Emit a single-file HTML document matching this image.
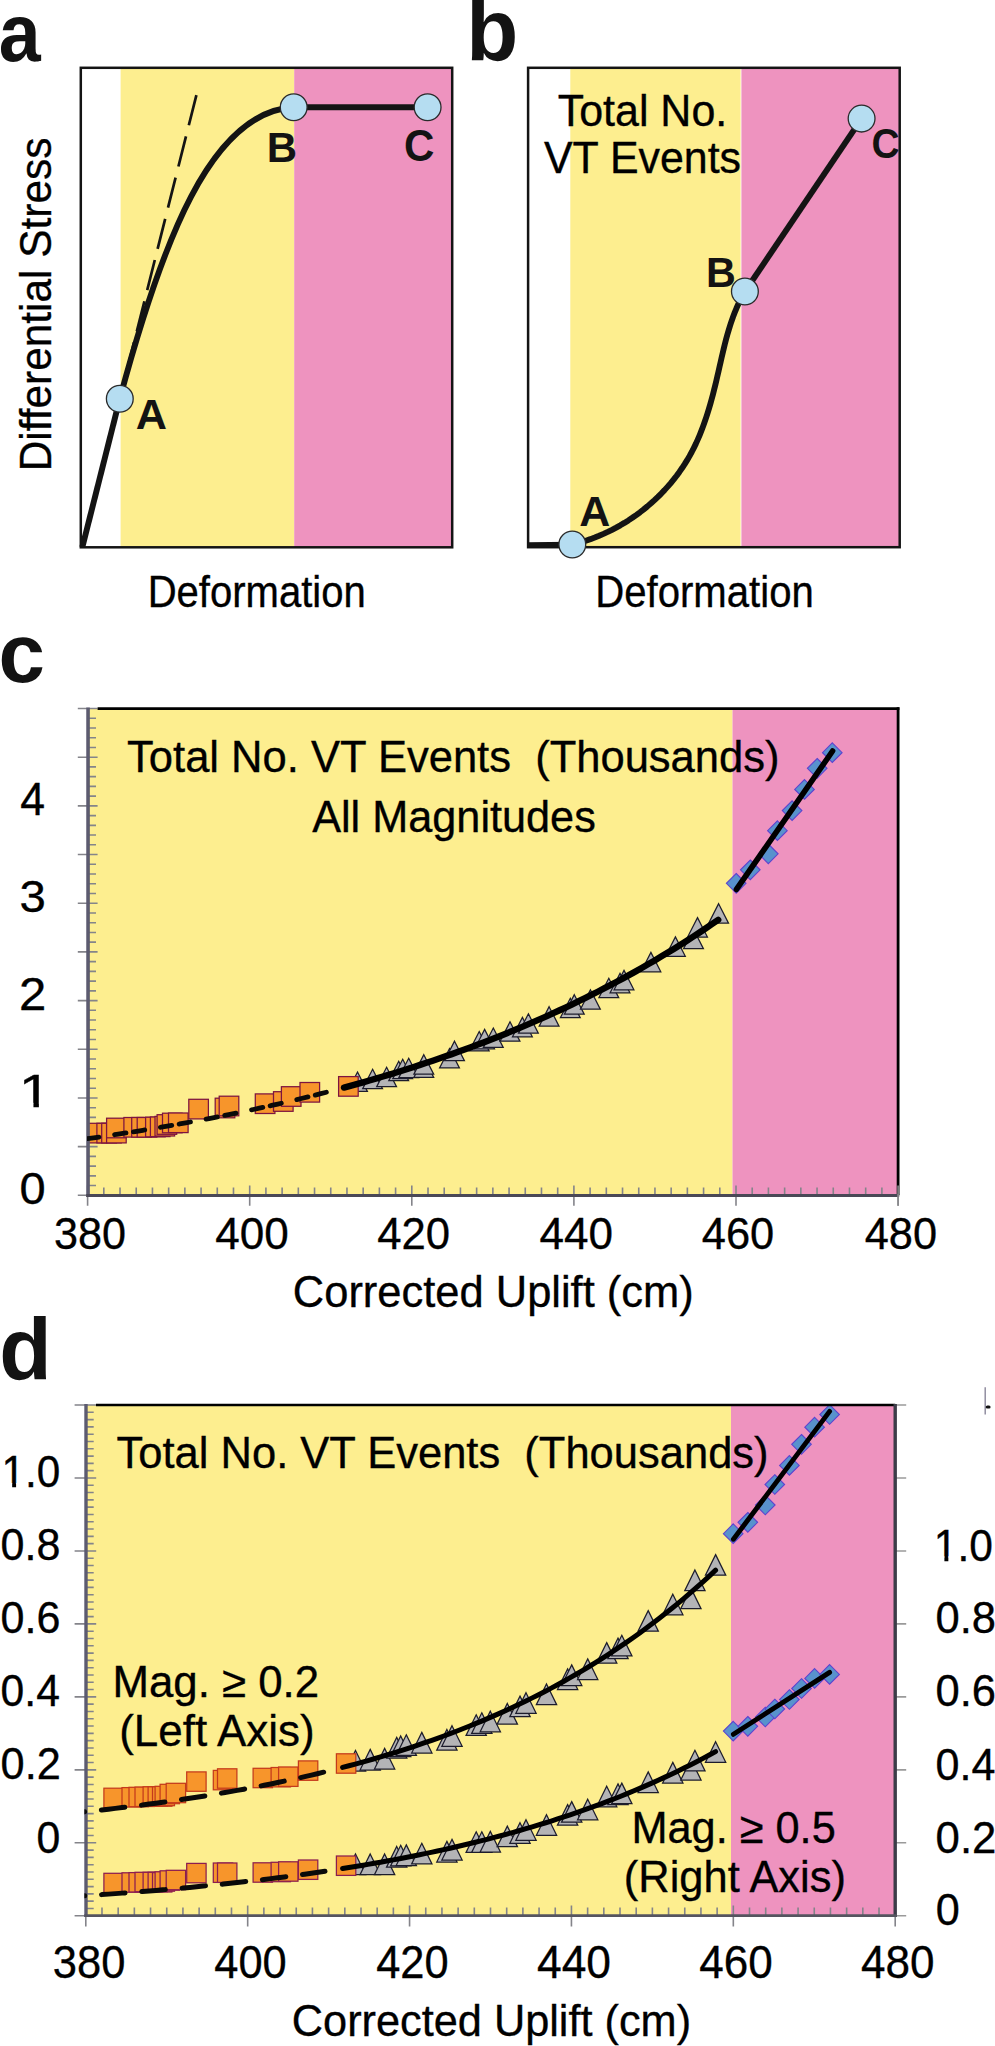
<!DOCTYPE html>
<html lang="en">
<head>
<meta charset="utf-8">
<title>Figure</title>
<style>
html,body{margin:0;padding:0;background:#fff;}
body{width:995px;height:2046px;overflow:hidden;}
svg{display:block;}
svg text{font-family:"Liberation Sans",sans-serif;white-space:pre;}
</style>
</head>
<body>
<svg width="995" height="2046" viewBox="0 0 995 2046">
<defs>
<clipPath id="clipC"><rect x="88" y="700" width="812" height="497"/></clipPath>
<clipPath id="clipD"><rect x="86" y="1400" width="812" height="517"/></clipPath>
<clipPath id="clipC2"><rect x="87.1" y="700" width="812" height="497"/></clipPath>
<clipPath id="clipD2"><rect x="84.4" y="1400" width="812" height="517"/></clipPath>
</defs>
<rect x="0" y="0" width="995" height="2046" fill="#fff"/>
<rect x="80.8" y="67.8" width="371.4" height="479.49999999999994" fill="#fff"/>
<rect x="120.6" y="67.8" width="173.60" height="479.49999999999994" fill="#FDEE8F"/>
<rect x="294.2" y="67.8" width="158.00" height="479.49999999999994" fill="#EE93BF"/>
<rect x="80.8" y="67.8" width="371.4" height="479.49999999999994" fill="none" stroke="#141414" stroke-width="2.5"/>
<path d="M196.4,95.2 L119.8,398.7" fill="none" stroke="#141414" stroke-width="2.7" stroke-dasharray="31 11.5"/>
<path d="M82.3,547.3 L119.8,398.7" fill="none" stroke="#141414" stroke-width="5.9" stroke-linecap="butt"/>
<path d="M119.8,398.7 C161.52,243.94 210.25,111.58 293.7,107.3" fill="none" stroke="#141414" stroke-width="5.9"/>
<path d="M293.7,107.3 L427.6,107.3" fill="none" stroke="#141414" stroke-width="5.9"/>
<circle cx="119.80" cy="398.70" r="13.4" fill="#B5DDF1" stroke="#2a2a2a" stroke-width="1.3"/>
<circle cx="293.70" cy="107.30" r="13.4" fill="#B5DDF1" stroke="#2a2a2a" stroke-width="1.3"/>
<circle cx="427.60" cy="107.30" r="13.4" fill="#B5DDF1" stroke="#2a2a2a" stroke-width="1.3"/>
<rect x="528.1" y="67.8" width="371.60" height="479.40" fill="#fff"/>
<rect x="570.3" y="67.8" width="170.30" height="479.40" fill="#FDEE8F"/>
<rect x="741.4" y="67.8" width="158.30" height="479.40" fill="#EE93BF"/>
<rect x="528.1" y="67.8" width="371.60" height="479.40" fill="none" stroke="#141414" stroke-width="2.5"/>
<path d="M527,545.0 L572.3,544.6" fill="none" stroke="#141414" stroke-width="5.6"/>
<path d="M572.30,544.50 L576.86,543.35 L581.39,542.08 L585.89,540.68 L590.35,539.16 L594.77,537.52 L599.15,535.76 L603.48,533.89 L607.76,531.91 L612.00,529.82 L616.18,527.62 L620.30,525.31 L624.37,522.90 L628.38,520.39 L632.32,517.78 L636.20,515.06 L640.01,512.26 L643.75,509.36 L647.41,506.37 L651.00,503.29 L654.51,500.12 L657.93,496.87 L661.28,493.54 L664.53,490.12 L667.70,486.63 L670.78,483.06 L673.76,479.41 L676.64,475.70 L679.42,471.91 L682.10,468.06 L684.68,464.14 L687.15,460.15 L689.50,456.11 L691.75,452.00 L693.88,447.84 L695.92,443.63 L697.85,439.36 L699.69,435.05 L701.44,430.69 L703.11,426.30 L704.70,421.87 L706.21,417.40 L707.66,412.90 L709.04,408.38 L710.37,403.83 L711.64,399.26 L712.87,394.67 L714.05,390.06 L715.19,385.45 L716.31,380.82 L717.39,376.19 L718.46,371.56 L719.51,366.93 L720.55,362.31 L721.61,357.69 L722.68,353.08 L723.77,348.49 L724.90,343.91 L726.08,339.35 L727.32,334.82 L728.62,330.31 L729.99,325.84 L731.45,321.40 L733.01,316.99 L734.67,312.62 L736.45,308.30 L738.35,304.02 L740.38,299.79 L742.56,295.62 L744.90,291.50" fill="none" stroke="#141414" stroke-width="5.9" stroke-linejoin="round"/>
<path d="M744.9,291.5 L861.6,118.6" fill="none" stroke="#141414" stroke-width="5.9"/>
<circle cx="572.30" cy="544.50" r="13.4" fill="#B5DDF1" stroke="#2a2a2a" stroke-width="1.3"/>
<circle cx="744.90" cy="291.50" r="13.4" fill="#B5DDF1" stroke="#2a2a2a" stroke-width="1.3"/>
<circle cx="861.60" cy="118.60" r="13.4" fill="#B5DDF1" stroke="#2a2a2a" stroke-width="1.3"/>
<rect x="87.6" y="708.5" width="644.90" height="486.80" fill="#FDEE8F"/>
<rect x="732.5" y="708.5" width="165.60" height="486.80" fill="#EE93BF"/>
<path d="M77.8,1195.30 H97.6 M88,1185.56 H96 M88,1175.83 H96 M88,1166.09 H96 M88,1156.36 H96 M77.8,1146.62 H97.6 M88,1136.88 H96 M88,1127.15 H96 M88,1117.41 H96 M88,1107.68 H96 M77.8,1097.94 H97.6 M88,1088.20 H96 M88,1078.47 H96 M88,1068.73 H96 M88,1059.00 H96 M77.8,1049.26 H97.6 M88,1039.52 H96 M88,1029.79 H96 M88,1020.05 H96 M88,1010.32 H96 M77.8,1000.58 H97.6 M88,990.84 H96 M88,981.11 H96 M88,971.37 H96 M88,961.64 H96 M77.8,951.90 H97.6 M88,942.16 H96 M88,932.43 H96 M88,922.69 H96 M88,912.96 H96 M77.8,903.22 H97.6 M88,893.48 H96 M88,883.75 H96 M88,874.01 H96 M88,864.28 H96 M77.8,854.54 H97.6 M88,844.80 H96 M88,835.07 H96 M88,825.33 H96 M88,815.60 H96 M77.8,805.86 H97.6 M88,796.12 H96 M88,786.39 H96 M88,776.65 H96 M88,766.92 H96 M77.8,757.18 H97.6 M88,747.44 H96 M88,737.71 H96 M88,727.97 H96 M88,718.24 H96 M77.8,708.50 H97.6" stroke="#84848a" stroke-width="1.6" fill="none"/>
<path d="M87.60,1185.4 V1205.8 M103.81,1187.4 V1195.3 M120.02,1187.4 V1195.3 M136.23,1187.4 V1195.3 M152.44,1187.4 V1195.3 M168.65,1187.4 V1195.3 M184.86,1187.4 V1195.3 M201.07,1187.4 V1195.3 M217.28,1187.4 V1195.3 M233.49,1187.4 V1195.3 M249.70,1185.4 V1205.8 M265.91,1187.4 V1195.3 M282.12,1187.4 V1195.3 M298.33,1187.4 V1195.3 M314.54,1187.4 V1195.3 M330.75,1187.4 V1195.3 M346.96,1187.4 V1195.3 M363.17,1187.4 V1195.3 M379.38,1187.4 V1195.3 M395.59,1187.4 V1195.3 M411.80,1185.4 V1205.8 M428.01,1187.4 V1195.3 M444.22,1187.4 V1195.3 M460.43,1187.4 V1195.3 M476.64,1187.4 V1195.3 M492.85,1187.4 V1195.3 M509.06,1187.4 V1195.3 M525.27,1187.4 V1195.3 M541.48,1187.4 V1195.3 M557.69,1187.4 V1195.3 M573.90,1185.4 V1205.8 M590.11,1187.4 V1195.3 M606.32,1187.4 V1195.3 M622.53,1187.4 V1195.3 M638.74,1187.4 V1195.3 M654.95,1187.4 V1195.3 M671.16,1187.4 V1195.3 M687.37,1187.4 V1195.3 M703.58,1187.4 V1195.3 M719.79,1187.4 V1195.3 M736.00,1185.4 V1205.8 M752.21,1187.4 V1195.3 M768.42,1187.4 V1195.3 M784.63,1187.4 V1195.3 M800.84,1187.4 V1195.3 M817.05,1187.4 V1195.3 M833.26,1187.4 V1195.3 M849.47,1187.4 V1195.3 M865.68,1187.4 V1195.3 M881.89,1187.4 V1195.3 M898.10,1185.4 V1205.8" stroke="#84848a" stroke-width="1.6" fill="none"/>
<g clip-path="url(#clipC)">
<path d="M357.50,1072.00 L367.40,1091.40 L347.60,1091.40 Z" fill="#B4B4B6" stroke="#1c1c2c" stroke-width="1.25" stroke-linejoin="miter"/>
<path d="M372.60,1069.30 L382.50,1088.70 L362.70,1088.70 Z" fill="#B4B4B6" stroke="#1c1c2c" stroke-width="1.25" stroke-linejoin="miter"/>
<path d="M386.60,1067.30 L396.50,1086.70 L376.70,1086.70 Z" fill="#B4B4B6" stroke="#1c1c2c" stroke-width="1.25" stroke-linejoin="miter"/>
<path d="M398.70,1061.30 L408.60,1080.70 L388.80,1080.70 Z" fill="#B4B4B6" stroke="#1c1c2c" stroke-width="1.25" stroke-linejoin="miter"/>
<path d="M402.70,1059.30 L412.60,1078.70 L392.80,1078.70 Z" fill="#B4B4B6" stroke="#1c1c2c" stroke-width="1.25" stroke-linejoin="miter"/>
<path d="M408.70,1058.30 L418.60,1077.70 L398.80,1077.70 Z" fill="#B4B4B6" stroke="#1c1c2c" stroke-width="1.25" stroke-linejoin="miter"/>
<path d="M423.80,1058.00 L433.70,1077.40 L413.90,1077.40 Z" fill="#B4B4B6" stroke="#1c1c2c" stroke-width="1.25" stroke-linejoin="miter"/>
<path d="M423.80,1054.70 L433.70,1074.10 L413.90,1074.10 Z" fill="#B4B4B6" stroke="#1c1c2c" stroke-width="1.25" stroke-linejoin="miter"/>
<path d="M449.50,1048.50 L459.40,1067.90 L439.60,1067.90 Z" fill="#B4B4B6" stroke="#1c1c2c" stroke-width="1.25" stroke-linejoin="miter"/>
<path d="M454.50,1041.20 L464.40,1060.60 L444.60,1060.60 Z" fill="#B4B4B6" stroke="#1c1c2c" stroke-width="1.25" stroke-linejoin="miter"/>
<path d="M479.20,1031.50 L489.10,1050.90 L469.30,1050.90 Z" fill="#B4B4B6" stroke="#1c1c2c" stroke-width="1.25" stroke-linejoin="miter"/>
<path d="M484.60,1029.40 L494.50,1048.80 L474.70,1048.80 Z" fill="#B4B4B6" stroke="#1c1c2c" stroke-width="1.25" stroke-linejoin="miter"/>
<path d="M493.30,1028.00 L503.20,1047.40 L483.40,1047.40 Z" fill="#B4B4B6" stroke="#1c1c2c" stroke-width="1.25" stroke-linejoin="miter"/>
<path d="M510.00,1021.80 L519.90,1041.20 L500.10,1041.20 Z" fill="#B4B4B6" stroke="#1c1c2c" stroke-width="1.25" stroke-linejoin="miter"/>
<path d="M522.40,1017.40 L532.30,1036.80 L512.50,1036.80 Z" fill="#B4B4B6" stroke="#1c1c2c" stroke-width="1.25" stroke-linejoin="miter"/>
<path d="M528.40,1013.80 L538.30,1033.20 L518.50,1033.20 Z" fill="#B4B4B6" stroke="#1c1c2c" stroke-width="1.25" stroke-linejoin="miter"/>
<path d="M549.10,1006.70 L559.00,1026.10 L539.20,1026.10 Z" fill="#B4B4B6" stroke="#1c1c2c" stroke-width="1.25" stroke-linejoin="miter"/>
<path d="M570.30,998.30 L580.20,1017.70 L560.40,1017.70 Z" fill="#B4B4B6" stroke="#1c1c2c" stroke-width="1.25" stroke-linejoin="miter"/>
<path d="M574.30,994.70 L584.20,1014.10 L564.40,1014.10 Z" fill="#B4B4B6" stroke="#1c1c2c" stroke-width="1.25" stroke-linejoin="miter"/>
<path d="M590.40,989.80 L600.30,1009.20 L580.50,1009.20 Z" fill="#B4B4B6" stroke="#1c1c2c" stroke-width="1.25" stroke-linejoin="miter"/>
<path d="M608.80,978.30 L618.70,997.70 L598.90,997.70 Z" fill="#B4B4B6" stroke="#1c1c2c" stroke-width="1.25" stroke-linejoin="miter"/>
<path d="M620.00,973.40 L629.90,992.80 L610.10,992.80 Z" fill="#B4B4B6" stroke="#1c1c2c" stroke-width="1.25" stroke-linejoin="miter"/>
<path d="M624.00,970.40 L633.90,989.80 L614.10,989.80 Z" fill="#B4B4B6" stroke="#1c1c2c" stroke-width="1.25" stroke-linejoin="miter"/>
<path d="M650.90,952.40 L660.80,971.80 L641.00,971.80 Z" fill="#B4B4B6" stroke="#1c1c2c" stroke-width="1.25" stroke-linejoin="miter"/>
<path d="M675.40,936.90 L685.30,956.30 L665.50,956.30 Z" fill="#B4B4B6" stroke="#1c1c2c" stroke-width="1.25" stroke-linejoin="miter"/>
<path d="M693.50,929.20 L703.40,948.60 L683.60,948.60 Z" fill="#B4B4B6" stroke="#1c1c2c" stroke-width="1.25" stroke-linejoin="miter"/>
<path d="M697.50,917.60 L707.40,937.00 L687.60,937.00 Z" fill="#B4B4B6" stroke="#1c1c2c" stroke-width="1.25" stroke-linejoin="miter"/>
<path d="M718.60,903.70 L728.50,923.10 L708.70,923.10 Z" fill="#B4B4B6" stroke="#1c1c2c" stroke-width="1.25" stroke-linejoin="miter"/>
<rect x="87.20" y="1123.30" width="19.60" height="19.60" fill="#F7952B" stroke="#7d1440" stroke-width="1.25"/>
<rect x="96.90" y="1123.30" width="19.60" height="19.60" fill="#F7952B" stroke="#7d1440" stroke-width="1.25"/>
<rect x="101.70" y="1123.30" width="19.60" height="19.60" fill="#F7952B" stroke="#7d1440" stroke-width="1.25"/>
<rect x="106.60" y="1123.30" width="19.60" height="19.60" fill="#F7952B" stroke="#7d1440" stroke-width="1.25"/>
<rect x="106.60" y="1118.20" width="19.60" height="19.60" fill="#F7952B" stroke="#7d1440" stroke-width="1.25"/>
<rect x="123.90" y="1117.50" width="19.60" height="19.60" fill="#F7952B" stroke="#7d1440" stroke-width="1.25"/>
<rect x="131.70" y="1117.50" width="19.60" height="19.60" fill="#F7952B" stroke="#7d1440" stroke-width="1.25"/>
<rect x="137.20" y="1117.50" width="19.60" height="19.60" fill="#F7952B" stroke="#7d1440" stroke-width="1.25"/>
<rect x="145.60" y="1117.20" width="19.60" height="19.60" fill="#F7952B" stroke="#7d1440" stroke-width="1.25"/>
<rect x="150.40" y="1117.00" width="19.60" height="19.60" fill="#F7952B" stroke="#7d1440" stroke-width="1.25"/>
<rect x="155.00" y="1116.40" width="19.60" height="19.60" fill="#F7952B" stroke="#7d1440" stroke-width="1.25"/>
<rect x="157.10" y="1114.70" width="19.60" height="19.60" fill="#F7952B" stroke="#7d1440" stroke-width="1.25"/>
<rect x="162.50" y="1113.20" width="19.60" height="19.60" fill="#F7952B" stroke="#7d1440" stroke-width="1.25"/>
<rect x="168.50" y="1113.00" width="19.60" height="19.60" fill="#F7952B" stroke="#7d1440" stroke-width="1.25"/>
<rect x="188.80" y="1099.30" width="19.60" height="19.60" fill="#F7952B" stroke="#7d1440" stroke-width="1.25"/>
<rect x="215.20" y="1098.20" width="19.60" height="19.60" fill="#F7952B" stroke="#7d1440" stroke-width="1.25"/>
<rect x="219.20" y="1096.20" width="19.60" height="19.60" fill="#F7952B" stroke="#7d1440" stroke-width="1.25"/>
<rect x="255.30" y="1093.90" width="19.60" height="19.60" fill="#F7952B" stroke="#7d1440" stroke-width="1.25"/>
<rect x="273.50" y="1091.70" width="19.60" height="19.60" fill="#F7952B" stroke="#7d1440" stroke-width="1.25"/>
<rect x="281.40" y="1086.70" width="19.60" height="19.60" fill="#F7952B" stroke="#7d1440" stroke-width="1.25"/>
<rect x="300.00" y="1082.50" width="19.60" height="19.60" fill="#F7952B" stroke="#7d1440" stroke-width="1.25"/>
<rect x="338.60" y="1076.60" width="19.60" height="19.60" fill="#F7952B" stroke="#7d1440" stroke-width="1.25"/>
<path d="M736.20,873.50 L746.00,883.30 L736.20,893.10 L726.40,883.30 Z" fill="#5892CC" stroke="#5c44d0" stroke-width="1.1"/>
<path d="M750.30,860.00 L760.10,869.80 L750.30,879.60 L740.50,869.80 Z" fill="#5892CC" stroke="#5c44d0" stroke-width="1.1"/>
<path d="M768.30,844.00 L778.10,853.80 L768.30,863.60 L758.50,853.80 Z" fill="#5892CC" stroke="#5c44d0" stroke-width="1.1"/>
<path d="M777.40,820.90 L787.20,830.70 L777.40,840.50 L767.60,830.70 Z" fill="#5892CC" stroke="#5c44d0" stroke-width="1.1"/>
<path d="M792.10,800.80 L801.90,810.60 L792.10,820.40 L782.30,810.60 Z" fill="#5892CC" stroke="#5c44d0" stroke-width="1.1"/>
<path d="M804.50,779.60 L814.30,789.40 L804.50,799.20 L794.70,789.40 Z" fill="#5892CC" stroke="#5c44d0" stroke-width="1.1"/>
<path d="M817.20,758.50 L827.00,768.30 L817.20,778.10 L807.40,768.30 Z" fill="#5892CC" stroke="#5c44d0" stroke-width="1.1"/>
<path d="M832.30,742.90 L842.10,752.70 L832.30,762.50 L822.50,752.70 Z" fill="#5892CC" stroke="#5c44d0" stroke-width="1.1"/>
</g>
<path d="M97.6,708.6 H899.4 " stroke="#000" stroke-width="2.7" fill="none"/>
<path d="M898.1,707.3 V1195.3" stroke="#000" stroke-width="2.8" fill="none"/>
<path d="M88.05,707.5 V1196.8999999999999" stroke="#5c5b70" stroke-width="3.6" fill="none"/>
<path d="M86.3,1195.5 H899.2" stroke="#4a4856" stroke-width="2.9" fill="none"/>
<path d="M898.10,1185.4 V1205.8" stroke="#8a8a8e" stroke-width="1.6" fill="none"/>
<g clip-path="url(#clipC2)">
<path d="M87.50,1138.69 L93.64,1137.81 L99.78,1136.92 L105.92,1136.02 L112.05,1135.10 L118.19,1134.16 L124.33,1133.21 L130.47,1132.25 L136.61,1131.27 L142.75,1130.28 L148.88,1129.27 L155.02,1128.24 L161.16,1127.20 L167.30,1126.15 L173.44,1125.07 L179.58,1123.98 L185.72,1122.88 L191.85,1121.75 L197.99,1120.61 L204.13,1119.45 L210.27,1118.28 L216.41,1117.08 L222.55,1115.87 L228.68,1114.63 L234.82,1113.38 L240.96,1112.11 L247.10,1110.82 L253.24,1109.51 L259.38,1108.18 L265.52,1106.83 L271.65,1105.45 L277.79,1104.06 L283.93,1102.64 L290.07,1101.21 L296.21,1099.75 L302.35,1098.26 L308.48,1096.76 L314.62,1095.23 L320.76,1093.67 L326.90,1092.10" fill="none" stroke="#0a0a0a" stroke-width="4.8" stroke-linecap="round" stroke-dasharray="11.5 15.9 11.5 7.5"/>
<path d="M344.00,1087.57 L350.34,1085.85 L356.68,1084.09 L363.03,1082.31 L369.37,1080.50 L375.71,1078.65 L382.05,1076.78 L388.40,1074.88 L394.74,1072.95 L401.08,1070.99 L407.42,1069.00 L413.77,1066.97 L420.11,1064.91 L426.45,1062.82 L432.79,1060.70 L439.14,1058.54 L445.48,1056.34 L451.82,1054.12 L458.16,1051.85 L464.51,1049.55 L470.85,1047.21 L477.19,1044.84 L483.53,1042.42 L489.87,1039.97 L496.22,1037.48 L502.56,1034.95 L508.90,1032.38 L515.24,1029.77 L521.59,1027.11 L527.93,1024.41 L534.27,1021.67 L540.61,1018.89 L546.96,1016.06 L553.30,1013.19 L559.64,1010.26 L565.98,1007.30 L572.33,1004.28 L578.67,1001.22 L585.01,998.11 L591.35,994.94 L597.69,991.73 L604.04,988.47 L610.38,985.15 L616.72,981.78 L623.06,978.35 L629.41,974.87 L635.75,971.34 L642.09,967.75 L648.43,964.10 L654.78,960.39 L661.12,956.62 L667.46,952.79 L673.80,948.91 L680.15,944.95 L686.49,940.94 L692.83,936.86 L699.17,932.71 L705.52,928.50 L711.86,924.22 L718.20,919.88" fill="none" stroke="#000" stroke-width="6.4" stroke-linecap="round" stroke-linejoin="round"/>
<path d="M736.4,889.45 L832.6,751.02" fill="none" stroke="#000" stroke-width="5.6" stroke-linecap="round"/>
</g>
<rect x="85.8" y="1405.0" width="645.20" height="510.60" fill="#FDEE8F"/>
<rect x="731.0" y="1405.0" width="164.20" height="510.60" fill="#EE93BF"/>
<path d="M74.6,1915.77 H96.2 M86,1908.47 H93.7 M86,1901.17 H93.7 M86,1893.88 H93.7 M86,1886.58 H93.7 M86,1879.28 H93.7 M86,1871.99 H93.7 M86,1864.69 H93.7 M86,1857.39 H93.7 M86,1850.10 H93.7 M74.6,1842.80 H96.2 M86,1835.50 H93.7 M86,1828.21 H93.7 M86,1820.91 H93.7 M86,1813.61 H93.7 M86,1806.32 H93.7 M86,1799.02 H93.7 M86,1791.72 H93.7 M86,1784.43 H93.7 M86,1777.13 H93.7 M74.6,1769.83 H96.2 M86,1762.54 H93.7 M86,1755.24 H93.7 M86,1747.94 H93.7 M86,1740.65 H93.7 M86,1733.35 H93.7 M86,1726.05 H93.7 M86,1718.76 H93.7 M86,1711.46 H93.7 M86,1704.16 H93.7 M74.6,1696.87 H96.2 M86,1689.57 H93.7 M86,1682.27 H93.7 M86,1674.98 H93.7 M86,1667.68 H93.7 M86,1660.38 H93.7 M86,1653.09 H93.7 M86,1645.79 H93.7 M86,1638.49 H93.7 M86,1631.20 H93.7 M74.6,1623.90 H96.2 M86,1616.60 H93.7 M86,1609.31 H93.7 M86,1602.01 H93.7 M86,1594.71 H93.7 M86,1587.42 H93.7 M86,1580.12 H93.7 M86,1572.82 H93.7 M86,1565.53 H93.7 M86,1558.23 H93.7 M74.6,1550.93 H96.2 M86,1543.64 H93.7 M86,1536.34 H93.7 M86,1529.04 H93.7 M86,1521.75 H93.7 M86,1514.45 H93.7 M86,1507.15 H93.7 M86,1499.86 H93.7 M86,1492.56 H93.7 M86,1485.26 H93.7 M74.6,1477.97 H96.2 M86,1470.67 H93.7 M86,1463.37 H93.7 M86,1456.08 H93.7 M86,1448.78 H93.7 M86,1441.48 H93.7 M86,1434.19 H93.7 M86,1426.89 H93.7 M86,1419.59 H93.7 M86,1412.30 H93.7 M74.6,1405.00 H96.2" stroke="#84848a" stroke-width="1.6" fill="none"/>
<path d="M895.20,1915.77 H906.2 M895.20,1842.80 H906.2 M895.20,1769.83 H906.2 M895.20,1696.87 H906.2 M895.20,1623.90 H906.2 M895.20,1550.93 H906.2 M895.20,1477.97 H906.2 M895.20,1405.00 H906.2" stroke="#9a9a9a" stroke-width="1.6" fill="none"/>
<path d="M85.80,1905.6 V1926.4 M101.99,1907.6 V1915.6 M118.18,1907.6 V1915.6 M134.36,1907.6 V1915.6 M150.55,1907.6 V1915.6 M166.74,1907.6 V1915.6 M182.93,1907.6 V1915.6 M199.12,1907.6 V1915.6 M215.30,1907.6 V1915.6 M231.49,1907.6 V1915.6 M247.68,1905.6 V1926.4 M263.87,1907.6 V1915.6 M280.06,1907.6 V1915.6 M296.24,1907.6 V1915.6 M312.43,1907.6 V1915.6 M328.62,1907.6 V1915.6 M344.81,1907.6 V1915.6 M361.00,1907.6 V1915.6 M377.18,1907.6 V1915.6 M393.37,1907.6 V1915.6 M409.56,1905.6 V1926.4 M425.75,1907.6 V1915.6 M441.94,1907.6 V1915.6 M458.12,1907.6 V1915.6 M474.31,1907.6 V1915.6 M490.50,1907.6 V1915.6 M506.69,1907.6 V1915.6 M522.88,1907.6 V1915.6 M539.06,1907.6 V1915.6 M555.25,1907.6 V1915.6 M571.44,1905.6 V1926.4 M587.63,1907.6 V1915.6 M603.82,1907.6 V1915.6 M620.00,1907.6 V1915.6 M636.19,1907.6 V1915.6 M652.38,1907.6 V1915.6 M668.57,1907.6 V1915.6 M684.76,1907.6 V1915.6 M700.94,1907.6 V1915.6 M717.13,1907.6 V1915.6 M733.32,1905.6 V1926.4 M749.51,1907.6 V1915.6 M765.70,1907.6 V1915.6 M781.88,1907.6 V1915.6 M798.07,1907.6 V1915.6 M814.26,1907.6 V1915.6 M830.45,1907.6 V1915.6 M846.64,1907.6 V1915.6 M862.82,1907.6 V1915.6 M879.01,1907.6 V1915.6 M895.20,1905.6 V1926.4" stroke="#84848a" stroke-width="1.6" fill="none"/>
<g clip-path="url(#clipD)">
<path d="M355.50,1750.50 L365.65,1771.10 L345.35,1771.10 Z" fill="#B4B4B6" stroke="#1c1c2c" stroke-width="1.25" stroke-linejoin="miter"/>
<path d="M370.20,1749.40 L380.35,1770.00 L360.05,1770.00 Z" fill="#B4B4B6" stroke="#1c1c2c" stroke-width="1.25" stroke-linejoin="miter"/>
<path d="M384.60,1748.40 L394.75,1769.00 L374.45,1769.00 Z" fill="#B4B4B6" stroke="#1c1c2c" stroke-width="1.25" stroke-linejoin="miter"/>
<path d="M396.70,1737.40 L406.85,1758.00 L386.55,1758.00 Z" fill="#B4B4B6" stroke="#1c1c2c" stroke-width="1.25" stroke-linejoin="miter"/>
<path d="M400.70,1736.00 L410.85,1756.60 L390.55,1756.60 Z" fill="#B4B4B6" stroke="#1c1c2c" stroke-width="1.25" stroke-linejoin="miter"/>
<path d="M406.30,1734.80 L416.45,1755.40 L396.15,1755.40 Z" fill="#B4B4B6" stroke="#1c1c2c" stroke-width="1.25" stroke-linejoin="miter"/>
<path d="M421.80,1732.40 L431.95,1753.00 L411.65,1753.00 Z" fill="#B4B4B6" stroke="#1c1c2c" stroke-width="1.25" stroke-linejoin="miter"/>
<path d="M446.90,1729.50 L457.05,1750.10 L436.75,1750.10 Z" fill="#B4B4B6" stroke="#1c1c2c" stroke-width="1.25" stroke-linejoin="miter"/>
<path d="M452.00,1725.70 L462.15,1746.30 L441.85,1746.30 Z" fill="#B4B4B6" stroke="#1c1c2c" stroke-width="1.25" stroke-linejoin="miter"/>
<path d="M476.20,1714.80 L486.35,1735.40 L466.05,1735.40 Z" fill="#B4B4B6" stroke="#1c1c2c" stroke-width="1.25" stroke-linejoin="miter"/>
<path d="M481.80,1712.80 L491.95,1733.40 L471.65,1733.40 Z" fill="#B4B4B6" stroke="#1c1c2c" stroke-width="1.25" stroke-linejoin="miter"/>
<path d="M490.30,1711.20 L500.45,1731.80 L480.15,1731.80 Z" fill="#B4B4B6" stroke="#1c1c2c" stroke-width="1.25" stroke-linejoin="miter"/>
<path d="M507.30,1703.50 L517.45,1724.10 L497.15,1724.10 Z" fill="#B4B4B6" stroke="#1c1c2c" stroke-width="1.25" stroke-linejoin="miter"/>
<path d="M520.00,1696.10 L530.15,1716.70 L509.85,1716.70 Z" fill="#B4B4B6" stroke="#1c1c2c" stroke-width="1.25" stroke-linejoin="miter"/>
<path d="M526.00,1692.70 L536.15,1713.30 L515.85,1713.30 Z" fill="#B4B4B6" stroke="#1c1c2c" stroke-width="1.25" stroke-linejoin="miter"/>
<path d="M546.50,1684.00 L556.65,1704.60 L536.35,1704.60 Z" fill="#B4B4B6" stroke="#1c1c2c" stroke-width="1.25" stroke-linejoin="miter"/>
<path d="M567.60,1668.90 L577.75,1689.50 L557.45,1689.50 Z" fill="#B4B4B6" stroke="#1c1c2c" stroke-width="1.25" stroke-linejoin="miter"/>
<path d="M571.70,1664.90 L581.85,1685.50 L561.55,1685.50 Z" fill="#B4B4B6" stroke="#1c1c2c" stroke-width="1.25" stroke-linejoin="miter"/>
<path d="M587.70,1658.90 L597.85,1679.50 L577.55,1679.50 Z" fill="#B4B4B6" stroke="#1c1c2c" stroke-width="1.25" stroke-linejoin="miter"/>
<path d="M606.70,1642.60 L616.85,1663.20 L596.55,1663.20 Z" fill="#B4B4B6" stroke="#1c1c2c" stroke-width="1.25" stroke-linejoin="miter"/>
<path d="M618.00,1638.10 L628.15,1658.70 L607.85,1658.70 Z" fill="#B4B4B6" stroke="#1c1c2c" stroke-width="1.25" stroke-linejoin="miter"/>
<path d="M621.80,1635.30 L631.95,1655.90 L611.65,1655.90 Z" fill="#B4B4B6" stroke="#1c1c2c" stroke-width="1.25" stroke-linejoin="miter"/>
<path d="M648.20,1610.60 L658.35,1631.20 L638.05,1631.20 Z" fill="#B4B4B6" stroke="#1c1c2c" stroke-width="1.25" stroke-linejoin="miter"/>
<path d="M672.80,1594.20 L682.95,1614.80 L662.65,1614.80 Z" fill="#B4B4B6" stroke="#1c1c2c" stroke-width="1.25" stroke-linejoin="miter"/>
<path d="M690.90,1588.10 L701.05,1608.70 L680.75,1608.70 Z" fill="#B4B4B6" stroke="#1c1c2c" stroke-width="1.25" stroke-linejoin="miter"/>
<path d="M694.90,1570.00 L705.05,1590.60 L684.75,1590.60 Z" fill="#B4B4B6" stroke="#1c1c2c" stroke-width="1.25" stroke-linejoin="miter"/>
<path d="M715.60,1554.60 L725.75,1575.20 L705.45,1575.20 Z" fill="#B4B4B6" stroke="#1c1c2c" stroke-width="1.25" stroke-linejoin="miter"/>
<rect x="103.90" y="1788.20" width="19.40" height="19.40" fill="#F7952B" stroke="#c43a1c" stroke-width="1.25"/>
<rect x="122.00" y="1787.60" width="19.40" height="19.40" fill="#F7952B" stroke="#c43a1c" stroke-width="1.25"/>
<rect x="129.00" y="1787.30" width="19.40" height="19.40" fill="#F7952B" stroke="#c43a1c" stroke-width="1.25"/>
<rect x="135.00" y="1787.10" width="19.40" height="19.40" fill="#F7952B" stroke="#c43a1c" stroke-width="1.25"/>
<rect x="143.10" y="1786.80" width="19.40" height="19.40" fill="#F7952B" stroke="#c43a1c" stroke-width="1.25"/>
<rect x="148.10" y="1786.80" width="19.40" height="19.40" fill="#F7952B" stroke="#c43a1c" stroke-width="1.25"/>
<rect x="152.50" y="1786.80" width="19.40" height="19.40" fill="#F7952B" stroke="#c43a1c" stroke-width="1.25"/>
<rect x="155.10" y="1786.30" width="19.40" height="19.40" fill="#F7952B" stroke="#c43a1c" stroke-width="1.25"/>
<rect x="160.10" y="1784.30" width="19.40" height="19.40" fill="#F7952B" stroke="#c43a1c" stroke-width="1.25"/>
<rect x="166.20" y="1783.30" width="19.40" height="19.40" fill="#F7952B" stroke="#c43a1c" stroke-width="1.25"/>
<rect x="186.70" y="1771.90" width="19.40" height="19.40" fill="#F7952B" stroke="#c43a1c" stroke-width="1.25"/>
<rect x="213.30" y="1770.40" width="19.40" height="19.40" fill="#F7952B" stroke="#c43a1c" stroke-width="1.25"/>
<rect x="217.50" y="1768.80" width="19.40" height="19.40" fill="#F7952B" stroke="#c43a1c" stroke-width="1.25"/>
<rect x="253.10" y="1768.30" width="19.40" height="19.40" fill="#F7952B" stroke="#c43a1c" stroke-width="1.25"/>
<rect x="271.10" y="1767.50" width="19.40" height="19.40" fill="#F7952B" stroke="#c43a1c" stroke-width="1.25"/>
<rect x="278.60" y="1767.00" width="19.40" height="19.40" fill="#F7952B" stroke="#c43a1c" stroke-width="1.25"/>
<rect x="298.40" y="1760.90" width="19.40" height="19.40" fill="#F7952B" stroke="#c43a1c" stroke-width="1.25"/>
<rect x="336.40" y="1753.80" width="19.40" height="19.40" fill="#F7952B" stroke="#c43a1c" stroke-width="1.25"/>
<path d="M733.20,1523.90 L743.00,1533.70 L733.20,1543.50 L723.40,1533.70 Z" fill="#5892CC" stroke="#5c44d0" stroke-width="1.1"/>
<path d="M747.80,1512.50 L757.60,1522.30 L747.80,1532.10 L738.00,1522.30 Z" fill="#5892CC" stroke="#5c44d0" stroke-width="1.1"/>
<path d="M765.30,1495.20 L775.10,1505.00 L765.30,1514.80 L755.50,1505.00 Z" fill="#5892CC" stroke="#5c44d0" stroke-width="1.1"/>
<path d="M774.80,1474.70 L784.60,1484.50 L774.80,1494.30 L765.00,1484.50 Z" fill="#5892CC" stroke="#5c44d0" stroke-width="1.1"/>
<path d="M789.40,1455.60 L799.20,1465.40 L789.40,1475.20 L779.60,1465.40 Z" fill="#5892CC" stroke="#5c44d0" stroke-width="1.1"/>
<path d="M801.50,1434.50 L811.30,1444.30 L801.50,1454.10 L791.70,1444.30 Z" fill="#5892CC" stroke="#5c44d0" stroke-width="1.1"/>
<path d="M814.60,1417.40 L824.40,1427.20 L814.60,1437.00 L804.80,1427.20 Z" fill="#5892CC" stroke="#5c44d0" stroke-width="1.1"/>
<path d="M829.60,1404.70 L839.40,1414.50 L829.60,1424.30 L819.80,1414.50 Z" fill="#5892CC" stroke="#5c44d0" stroke-width="1.1"/>
<path d="M355.50,1854.00 L365.65,1874.60 L345.35,1874.60 Z" fill="#B4B4B6" stroke="#1c1c2c" stroke-width="1.25" stroke-linejoin="miter"/>
<path d="M370.20,1854.00 L380.35,1874.60 L360.05,1874.60 Z" fill="#B4B4B6" stroke="#1c1c2c" stroke-width="1.25" stroke-linejoin="miter"/>
<path d="M384.60,1854.00 L394.75,1874.60 L374.45,1874.60 Z" fill="#B4B4B6" stroke="#1c1c2c" stroke-width="1.25" stroke-linejoin="miter"/>
<path d="M396.70,1846.50 L406.85,1867.10 L386.55,1867.10 Z" fill="#B4B4B6" stroke="#1c1c2c" stroke-width="1.25" stroke-linejoin="miter"/>
<path d="M400.70,1845.30 L410.85,1865.90 L390.55,1865.90 Z" fill="#B4B4B6" stroke="#1c1c2c" stroke-width="1.25" stroke-linejoin="miter"/>
<path d="M406.30,1844.90 L416.45,1865.50 L396.15,1865.50 Z" fill="#B4B4B6" stroke="#1c1c2c" stroke-width="1.25" stroke-linejoin="miter"/>
<path d="M421.80,1843.30 L431.95,1863.90 L411.65,1863.90 Z" fill="#B4B4B6" stroke="#1c1c2c" stroke-width="1.25" stroke-linejoin="miter"/>
<path d="M446.90,1841.40 L457.05,1862.00 L436.75,1862.00 Z" fill="#B4B4B6" stroke="#1c1c2c" stroke-width="1.25" stroke-linejoin="miter"/>
<path d="M452.00,1839.40 L462.15,1860.00 L441.85,1860.00 Z" fill="#B4B4B6" stroke="#1c1c2c" stroke-width="1.25" stroke-linejoin="miter"/>
<path d="M476.20,1831.80 L486.35,1852.40 L466.05,1852.40 Z" fill="#B4B4B6" stroke="#1c1c2c" stroke-width="1.25" stroke-linejoin="miter"/>
<path d="M481.80,1831.80 L491.95,1852.40 L471.65,1852.40 Z" fill="#B4B4B6" stroke="#1c1c2c" stroke-width="1.25" stroke-linejoin="miter"/>
<path d="M490.30,1831.40 L500.45,1852.00 L480.15,1852.00 Z" fill="#B4B4B6" stroke="#1c1c2c" stroke-width="1.25" stroke-linejoin="miter"/>
<path d="M507.30,1826.10 L517.45,1846.70 L497.15,1846.70 Z" fill="#B4B4B6" stroke="#1c1c2c" stroke-width="1.25" stroke-linejoin="miter"/>
<path d="M520.00,1822.70 L530.15,1843.30 L509.85,1843.30 Z" fill="#B4B4B6" stroke="#1c1c2c" stroke-width="1.25" stroke-linejoin="miter"/>
<path d="M526.00,1819.70 L536.15,1840.30 L515.85,1840.30 Z" fill="#B4B4B6" stroke="#1c1c2c" stroke-width="1.25" stroke-linejoin="miter"/>
<path d="M546.50,1814.70 L556.65,1835.30 L536.35,1835.30 Z" fill="#B4B4B6" stroke="#1c1c2c" stroke-width="1.25" stroke-linejoin="miter"/>
<path d="M567.60,1804.60 L577.75,1825.20 L557.45,1825.20 Z" fill="#B4B4B6" stroke="#1c1c2c" stroke-width="1.25" stroke-linejoin="miter"/>
<path d="M571.70,1801.60 L581.85,1822.20 L561.55,1822.20 Z" fill="#B4B4B6" stroke="#1c1c2c" stroke-width="1.25" stroke-linejoin="miter"/>
<path d="M587.70,1799.20 L597.85,1819.80 L577.55,1819.80 Z" fill="#B4B4B6" stroke="#1c1c2c" stroke-width="1.25" stroke-linejoin="miter"/>
<path d="M606.70,1786.20 L616.85,1806.80 L596.55,1806.80 Z" fill="#B4B4B6" stroke="#1c1c2c" stroke-width="1.25" stroke-linejoin="miter"/>
<path d="M618.00,1783.90 L628.15,1804.50 L607.85,1804.50 Z" fill="#B4B4B6" stroke="#1c1c2c" stroke-width="1.25" stroke-linejoin="miter"/>
<path d="M621.80,1783.10 L631.95,1803.70 L611.65,1803.70 Z" fill="#B4B4B6" stroke="#1c1c2c" stroke-width="1.25" stroke-linejoin="miter"/>
<path d="M648.20,1771.90 L658.35,1792.50 L638.05,1792.50 Z" fill="#B4B4B6" stroke="#1c1c2c" stroke-width="1.25" stroke-linejoin="miter"/>
<path d="M672.80,1762.40 L682.95,1783.00 L662.65,1783.00 Z" fill="#B4B4B6" stroke="#1c1c2c" stroke-width="1.25" stroke-linejoin="miter"/>
<path d="M690.90,1759.40 L701.05,1780.00 L680.75,1780.00 Z" fill="#B4B4B6" stroke="#1c1c2c" stroke-width="1.25" stroke-linejoin="miter"/>
<path d="M694.90,1750.30 L705.05,1770.90 L684.75,1770.90 Z" fill="#B4B4B6" stroke="#1c1c2c" stroke-width="1.25" stroke-linejoin="miter"/>
<path d="M715.60,1741.70 L725.75,1762.30 L705.45,1762.30 Z" fill="#B4B4B6" stroke="#1c1c2c" stroke-width="1.25" stroke-linejoin="miter"/>
<rect x="103.90" y="1873.30" width="19.40" height="19.40" fill="#F7952B" stroke="#8c1d50" stroke-width="1.25"/>
<rect x="122.00" y="1872.80" width="19.40" height="19.40" fill="#F7952B" stroke="#8c1d50" stroke-width="1.25"/>
<rect x="129.00" y="1872.60" width="19.40" height="19.40" fill="#F7952B" stroke="#8c1d50" stroke-width="1.25"/>
<rect x="135.00" y="1872.30" width="19.40" height="19.40" fill="#F7952B" stroke="#8c1d50" stroke-width="1.25"/>
<rect x="143.10" y="1872.30" width="19.40" height="19.40" fill="#F7952B" stroke="#8c1d50" stroke-width="1.25"/>
<rect x="148.10" y="1872.30" width="19.40" height="19.40" fill="#F7952B" stroke="#8c1d50" stroke-width="1.25"/>
<rect x="152.50" y="1872.60" width="19.40" height="19.40" fill="#F7952B" stroke="#8c1d50" stroke-width="1.25"/>
<rect x="155.10" y="1871.80" width="19.40" height="19.40" fill="#F7952B" stroke="#8c1d50" stroke-width="1.25"/>
<rect x="160.10" y="1870.80" width="19.40" height="19.40" fill="#F7952B" stroke="#8c1d50" stroke-width="1.25"/>
<rect x="166.20" y="1870.30" width="19.40" height="19.40" fill="#F7952B" stroke="#8c1d50" stroke-width="1.25"/>
<rect x="186.70" y="1863.40" width="19.40" height="19.40" fill="#F7952B" stroke="#8c1d50" stroke-width="1.25"/>
<rect x="213.30" y="1863.00" width="19.40" height="19.40" fill="#F7952B" stroke="#8c1d50" stroke-width="1.25"/>
<rect x="217.50" y="1863.00" width="19.40" height="19.40" fill="#F7952B" stroke="#8c1d50" stroke-width="1.25"/>
<rect x="253.10" y="1862.80" width="19.40" height="19.40" fill="#F7952B" stroke="#8c1d50" stroke-width="1.25"/>
<rect x="271.10" y="1862.30" width="19.40" height="19.40" fill="#F7952B" stroke="#8c1d50" stroke-width="1.25"/>
<rect x="278.60" y="1861.80" width="19.40" height="19.40" fill="#F7952B" stroke="#8c1d50" stroke-width="1.25"/>
<rect x="298.40" y="1860.00" width="19.40" height="19.40" fill="#F7952B" stroke="#8c1d50" stroke-width="1.25"/>
<rect x="336.40" y="1856.00" width="19.40" height="19.40" fill="#F7952B" stroke="#8c1d50" stroke-width="1.25"/>
<path d="M733.20,1721.30 L743.00,1731.10 L733.20,1740.90 L723.40,1731.10 Z" fill="#5892CC" stroke="#5c44d0" stroke-width="1.1"/>
<path d="M747.80,1716.50 L757.60,1726.30 L747.80,1736.10 L738.00,1726.30 Z" fill="#5892CC" stroke="#5c44d0" stroke-width="1.1"/>
<path d="M765.30,1707.20 L775.10,1717.00 L765.30,1726.80 L755.50,1717.00 Z" fill="#5892CC" stroke="#5c44d0" stroke-width="1.1"/>
<path d="M774.80,1699.20 L784.60,1709.00 L774.80,1718.80 L765.00,1709.00 Z" fill="#5892CC" stroke="#5c44d0" stroke-width="1.1"/>
<path d="M789.40,1689.70 L799.20,1699.50 L789.40,1709.30 L779.60,1699.50 Z" fill="#5892CC" stroke="#5c44d0" stroke-width="1.1"/>
<path d="M801.50,1678.70 L811.30,1688.50 L801.50,1698.30 L791.70,1688.50 Z" fill="#5892CC" stroke="#5c44d0" stroke-width="1.1"/>
<path d="M814.60,1668.60 L824.40,1678.40 L814.60,1688.20 L804.80,1678.40 Z" fill="#5892CC" stroke="#5c44d0" stroke-width="1.1"/>
<path d="M829.60,1664.60 L839.40,1674.40 L829.60,1684.20 L819.80,1674.40 Z" fill="#5892CC" stroke="#5c44d0" stroke-width="1.1"/>
</g>
<path d="M96,1405.0 H895.2" stroke="#000" stroke-width="2.6" fill="none"/>
<path d="M86.0,1404.0 V1917.1" stroke="#5c5b70" stroke-width="3.4" fill="none"/>
<path d="M895.2,1404.0 V1917.1" stroke="#3c3c48" stroke-width="3.4" fill="none"/>
<path d="M84.3,1915.6 H896.9000000000001" stroke="#55545f" stroke-width="2.8" fill="none"/>
<g clip-path="url(#clipD2)">
<path d="M61.20,1814.22 L67.96,1813.55 L74.73,1812.86 L81.49,1812.15 L88.26,1811.43 L95.02,1810.69 L101.78,1809.93 L108.55,1809.16 L115.31,1808.36 L122.08,1807.55 L128.84,1806.72 L135.61,1805.87 L142.37,1805.00 L149.13,1804.10 L155.90,1803.19 L162.66,1802.26 L169.43,1801.30 L176.19,1800.32 L182.95,1799.32 L189.72,1798.30 L196.48,1797.25 L203.25,1796.17 L210.01,1795.07 L216.77,1793.95 L223.54,1792.79 L230.30,1791.61 L237.07,1790.41 L243.83,1789.17 L250.59,1787.91 L257.36,1786.61 L264.12,1785.29 L270.89,1783.93 L277.65,1782.54 L284.42,1781.12 L291.18,1779.67 L297.94,1778.18 L304.71,1776.65 L311.47,1775.09 L318.24,1773.49 L325.00,1771.86" fill="none" stroke="#0a0a0a" stroke-width="5.0" stroke-linecap="round" stroke-dasharray="23.6 16.8"/>
<path d="M342.60,1767.42 L348.92,1765.76 L355.24,1764.07 L361.57,1762.33 L367.89,1760.56 L374.21,1758.75 L380.53,1756.90 L386.85,1755.00 L393.18,1753.07 L399.50,1751.09 L405.82,1749.07 L412.14,1747.01 L418.46,1744.90 L424.79,1742.74 L431.11,1740.54 L437.43,1738.29 L443.75,1735.98 L450.07,1733.63 L456.40,1731.23 L462.72,1728.77 L469.04,1726.26 L475.36,1723.69 L481.68,1721.07 L488.01,1718.38 L494.33,1715.64 L500.65,1712.84 L506.97,1709.98 L513.29,1707.05 L519.62,1704.06 L525.94,1701.01 L532.26,1697.88 L538.58,1694.69 L544.91,1691.43 L551.23,1688.10 L557.55,1684.69 L563.87,1681.21 L570.19,1677.65 L576.52,1674.01 L582.84,1670.29 L589.16,1666.49 L595.48,1662.61 L601.80,1658.64 L608.13,1654.58 L614.45,1650.43 L620.77,1646.20 L627.09,1641.87 L633.41,1637.44 L639.74,1632.92 L646.06,1628.29 L652.38,1623.57 L658.70,1618.74 L665.02,1613.80 L671.35,1608.76 L677.67,1603.60 L683.99,1598.33 L690.31,1592.95 L696.63,1587.45 L702.96,1581.82 L709.28,1576.07 L715.60,1570.20" fill="none" stroke="#000" stroke-width="5.0" stroke-linecap="round" stroke-linejoin="round"/>
<path d="M733.4,1539.23 L829.6,1411.39" fill="none" stroke="#000" stroke-width="4.9" stroke-linecap="round"/>
<path d="M61.20,1897.27 L67.96,1896.85 L74.73,1896.42 L81.49,1895.99 L88.26,1895.54 L95.02,1895.08 L101.78,1894.61 L108.55,1894.12 L115.31,1893.63 L122.08,1893.13 L128.84,1892.61 L135.61,1892.09 L142.37,1891.55 L149.13,1891.00 L155.90,1890.43 L162.66,1889.86 L169.43,1889.27 L176.19,1888.66 L182.95,1888.05 L189.72,1887.42 L196.48,1886.77 L203.25,1886.11 L210.01,1885.43 L216.77,1884.74 L223.54,1884.04 L230.30,1883.31 L237.07,1882.57 L243.83,1881.82 L250.59,1881.04 L257.36,1880.25 L264.12,1879.44 L270.89,1878.61 L277.65,1877.76 L284.42,1876.90 L291.18,1876.01 L297.94,1875.10 L304.71,1874.18 L311.47,1873.23 L318.24,1872.26 L325.00,1871.26" fill="none" stroke="#0a0a0a" stroke-width="5.0" stroke-linecap="round" stroke-dasharray="23.6 16.8"/>
<path d="M342.60,1868.57 L348.92,1867.56 L355.24,1866.54 L361.57,1865.49 L367.89,1864.41 L374.21,1863.32 L380.53,1862.20 L386.85,1861.06 L393.18,1859.89 L399.50,1858.70 L405.82,1857.48 L412.14,1856.24 L418.46,1854.97 L424.79,1853.67 L431.11,1852.34 L437.43,1850.99 L443.75,1849.61 L450.07,1848.20 L456.40,1846.75 L462.72,1845.28 L469.04,1843.78 L475.36,1842.24 L481.68,1840.67 L488.01,1839.07 L494.33,1837.43 L500.65,1835.75 L506.97,1834.05 L513.29,1832.30 L519.62,1830.52 L525.94,1828.70 L532.26,1826.84 L538.58,1824.94 L544.91,1823.00 L551.23,1821.02 L557.55,1818.99 L563.87,1816.93 L570.19,1814.81 L576.52,1812.66 L582.84,1810.46 L589.16,1808.21 L595.48,1805.91 L601.80,1803.56 L608.13,1801.16 L614.45,1798.71 L620.77,1796.21 L627.09,1793.66 L633.41,1791.05 L639.74,1788.38 L646.06,1785.66 L652.38,1782.88 L658.70,1780.04 L665.02,1777.14 L671.35,1774.18 L677.67,1771.15 L683.99,1768.06 L690.31,1764.90 L696.63,1761.68 L702.96,1758.38 L709.28,1755.02 L715.60,1751.58" fill="none" stroke="#000" stroke-width="5.0" stroke-linecap="round" stroke-linejoin="round"/>
<path d="M733.4,1734.30 L829.6,1672.43" fill="none" stroke="#000" stroke-width="4.9" stroke-linecap="round"/>
</g>
<path d="M985.2,1387.2 V1414.4" stroke="#8a869a" stroke-width="1.4" fill="none"/>
<path d="M987.3,1407.0 H989.0" stroke="#111" stroke-width="3.2" stroke-linecap="round" fill="none"/>
<text xml:space="preserve" transform="translate(-1.26,60.88) scale(0.9157,1)" font-size="82.32" font-weight="bold" fill="#131313">a</text>
<text xml:space="preserve" transform="translate(466.22,60.14) scale(0.9872,1)" font-size="86.33" font-weight="bold" fill="#131313">b</text>
<text xml:space="preserve" transform="translate(-1.54,682.27) scale(1.0090,1)" font-size="82.68" font-weight="bold" fill="#131313">c</text>
<text xml:space="preserve" transform="translate(-0.83,1379.42) scale(0.9803,1)" font-size="87.56" font-weight="bold" fill="#131313">d</text>
<text xml:space="preserve" transform="translate(135.85,429.40) scale(1.0334,1)" font-size="41.88" font-weight="bold" fill="#131313">A</text>
<text xml:space="preserve" transform="translate(266.80,161.80) scale(0.9883,1)" font-size="42.46" font-weight="bold" fill="#131313">B</text>
<text xml:space="preserve" transform="translate(404.12,161.45) scale(0.9443,1)" font-size="44.58" font-weight="bold" fill="#131313">C</text>
<text xml:space="preserve" transform="translate(579.25,525.60) scale(1.0263,1)" font-size="41.88" font-weight="bold" fill="#131313">A</text>
<text xml:space="preserve" transform="translate(706.05,287.40) scale(0.9863,1)" font-size="41.88" font-weight="bold" fill="#131313">B</text>
<text xml:space="preserve" transform="translate(871.44,158.47) scale(0.8978,1)" font-size="43.30" font-weight="bold" fill="#131313">C</text>
<text xml:space="preserve" transform="translate(50.90,471.33) rotate(-90) scale(0.9607,1)" font-size="44.14" fill="#000" stroke="#000" stroke-width="0.35">Differential Stress</text>
<text xml:space="preserve" transform="translate(147.66,607.30) scale(0.9051,1)" font-size="44.26" fill="#000" stroke="#000" stroke-width="0.35">Deformation</text>
<text xml:space="preserve" transform="translate(595.26,607.40) scale(0.9068,1)" font-size="44.26" fill="#000" stroke="#000" stroke-width="0.35">Deformation</text>
<text xml:space="preserve" transform="translate(557.70,125.60) scale(0.9705,1)" font-size="44.26" fill="#000" stroke="#000" stroke-width="0.35">Total No.</text>
<text xml:space="preserve" transform="translate(543.91,172.90) scale(0.9697,1)" font-size="44.26" fill="#000" stroke="#000" stroke-width="0.35">VT Events</text>
<text xml:space="preserve" transform="translate(127.08,772.40) scale(0.9837,1)" font-size="44.26" fill="#000" stroke="#000" stroke-width="0.35">Total No. VT Events  (Thousands)</text>
<text xml:space="preserve" transform="translate(312.16,831.90) scale(0.9770,1)" font-size="44.26" fill="#000" stroke="#000" stroke-width="0.35">All Magnitudes</text>
<text xml:space="preserve" transform="translate(19.52,1204.45) scale(1.0443,1)" font-size="45.00" fill="#000" stroke="#000" stroke-width="0.35">0</text>
<text xml:space="preserve" transform="translate(18.86,1107.45) scale(1.2665,1)" font-size="46.09" fill="#000" stroke="#000" stroke-width="0.35">1</text><rect x="20.90" y="1102.84" width="12.55" height="6.41" fill="#fff"/><rect x="38.88" y="1102.84" width="12.08" height="6.41" fill="#fff"/>
<text xml:space="preserve" transform="translate(18.95,1010.00) scale(1.0746,1)" font-size="45.65" fill="#000" stroke="#000" stroke-width="0.35">2</text>
<text xml:space="preserve" transform="translate(19.51,912.10) scale(1.0516,1)" font-size="45.00" fill="#000" stroke="#000" stroke-width="0.35">3</text>
<text xml:space="preserve" transform="translate(20.36,815.10) scale(0.9656,1)" font-size="46.09" fill="#000" stroke="#000" stroke-width="0.35">4</text>
<text xml:space="preserve" transform="translate(54.07,1248.55) scale(0.9558,1)" font-size="45.14" fill="#000" stroke="#000" stroke-width="0.35">380</text>
<text xml:space="preserve" transform="translate(215.27,1248.55) scale(0.9762,1)" font-size="45.14" fill="#000" stroke="#000" stroke-width="0.35">400</text>
<text xml:space="preserve" transform="translate(377.18,1248.55) scale(0.9679,1)" font-size="45.14" fill="#000" stroke="#000" stroke-width="0.35">420</text>
<text xml:space="preserve" transform="translate(539.47,1248.55) scale(0.9762,1)" font-size="45.14" fill="#000" stroke="#000" stroke-width="0.35">440</text>
<text xml:space="preserve" transform="translate(701.79,1248.55) scale(0.9624,1)" font-size="45.14" fill="#000" stroke="#000" stroke-width="0.35">460</text>
<text xml:space="preserve" transform="translate(864.69,1248.55) scale(0.9610,1)" font-size="45.14" fill="#000" stroke="#000" stroke-width="0.35">480</text>
<text xml:space="preserve" transform="translate(292.83,1306.70) scale(0.9822,1)" font-size="44.26" fill="#000" stroke="#000" stroke-width="0.35">Corrected Uplift (cm)</text>
<text xml:space="preserve" transform="translate(116.58,1468.30) scale(0.9831,1)" font-size="44.26" fill="#000" stroke="#000" stroke-width="0.35">Total No. VT Events  (Thousands)</text>
<text xml:space="preserve" transform="translate(112.55,1696.80) scale(0.9895,1)" font-size="44.26" fill="#000" stroke="#000" stroke-width="0.35">Mag. ≥ 0.2</text>
<text xml:space="preserve" transform="translate(119.22,1746.20) scale(0.9928,1)" font-size="44.26" fill="#000" stroke="#000" stroke-width="0.35">(Left Axis)</text>
<text xml:space="preserve" transform="translate(631.39,1842.90) scale(0.9789,1)" font-size="44.26" fill="#000" stroke="#000" stroke-width="0.35">Mag. ≥ 0.5</text>
<text xml:space="preserve" transform="translate(623.85,1891.90) scale(0.9815,1)" font-size="44.26" fill="#000" stroke="#000" stroke-width="0.35">(Right Axis)</text>
<text xml:space="preserve" transform="translate(36.59,1853.46) scale(0.9693,1)" font-size="44.15" fill="#000" stroke="#000" stroke-width="0.35">0</text>
<text xml:space="preserve" transform="translate(0.57,1779.21) scale(0.9809,1)" font-size="44.15" fill="#000" stroke="#000" stroke-width="0.35">0.2</text>
<text xml:space="preserve" transform="translate(0.59,1706.26) scale(0.9660,1)" font-size="44.15" fill="#000" stroke="#000" stroke-width="0.35">0.4</text>
<text xml:space="preserve" transform="translate(0.58,1633.31) scale(0.9759,1)" font-size="44.15" fill="#000" stroke="#000" stroke-width="0.35">0.6</text>
<text xml:space="preserve" transform="translate(0.58,1560.36) scale(0.9759,1)" font-size="44.15" fill="#000" stroke="#000" stroke-width="0.35">0.8</text>
<text xml:space="preserve" transform="translate(1.58,1487.41) scale(0.9553,1)" font-size="44.29" fill="#000" stroke="#000" stroke-width="0.35">1.0</text><rect x="3.06" y="1482.98" width="9.10" height="6.23" fill="#fff"/><rect x="16.09" y="1482.98" width="8.76" height="6.23" fill="#fff"/>
<text xml:space="preserve" transform="translate(935.87,1925.45) scale(0.9544,1)" font-size="45.28" fill="#000" stroke="#000" stroke-width="0.35">0</text>
<text xml:space="preserve" transform="translate(935.55,1853.15) scale(0.9666,1)" font-size="45.28" fill="#000" stroke="#000" stroke-width="0.35">0.2</text>
<text xml:space="preserve" transform="translate(935.58,1779.55) scale(0.9519,1)" font-size="45.28" fill="#000" stroke="#000" stroke-width="0.35">0.4</text>
<text xml:space="preserve" transform="translate(935.56,1705.55) scale(0.9616,1)" font-size="45.28" fill="#000" stroke="#000" stroke-width="0.35">0.6</text>
<text xml:space="preserve" transform="translate(935.56,1633.25) scale(0.9616,1)" font-size="45.28" fill="#000" stroke="#000" stroke-width="0.35">0.8</text>
<text xml:space="preserve" transform="translate(933.76,1560.85) scale(0.9396,1)" font-size="45.28" fill="#000" stroke="#000" stroke-width="0.35">1.0</text><rect x="935.25" y="1556.32" width="9.15" height="6.33" fill="#fff"/><rect x="948.35" y="1556.32" width="8.81" height="6.33" fill="#fff"/>
<text xml:space="preserve" transform="translate(52.86,1978.44) scale(0.9463,1)" font-size="45.99" fill="#000" stroke="#000" stroke-width="0.35">380</text>
<text xml:space="preserve" transform="translate(214.29,1978.44) scale(0.9446,1)" font-size="45.99" fill="#000" stroke="#000" stroke-width="0.35">400</text>
<text xml:space="preserve" transform="translate(376.19,1978.44) scale(0.9433,1)" font-size="45.99" fill="#000" stroke="#000" stroke-width="0.35">420</text>
<text xml:space="preserve" transform="translate(536.96,1978.44) scale(0.9649,1)" font-size="45.99" fill="#000" stroke="#000" stroke-width="0.35">440</text>
<text xml:space="preserve" transform="translate(699.27,1978.44) scale(0.9582,1)" font-size="45.99" fill="#000" stroke="#000" stroke-width="0.35">460</text>
<text xml:space="preserve" transform="translate(861.07,1978.44) scale(0.9582,1)" font-size="45.99" fill="#000" stroke="#000" stroke-width="0.35">480</text>
<text xml:space="preserve" transform="translate(291.83,2035.70) scale(0.9785,1)" font-size="44.26" fill="#000" stroke="#000" stroke-width="0.35">Corrected Uplift (cm)</text>
</svg>
</body>
</html>
